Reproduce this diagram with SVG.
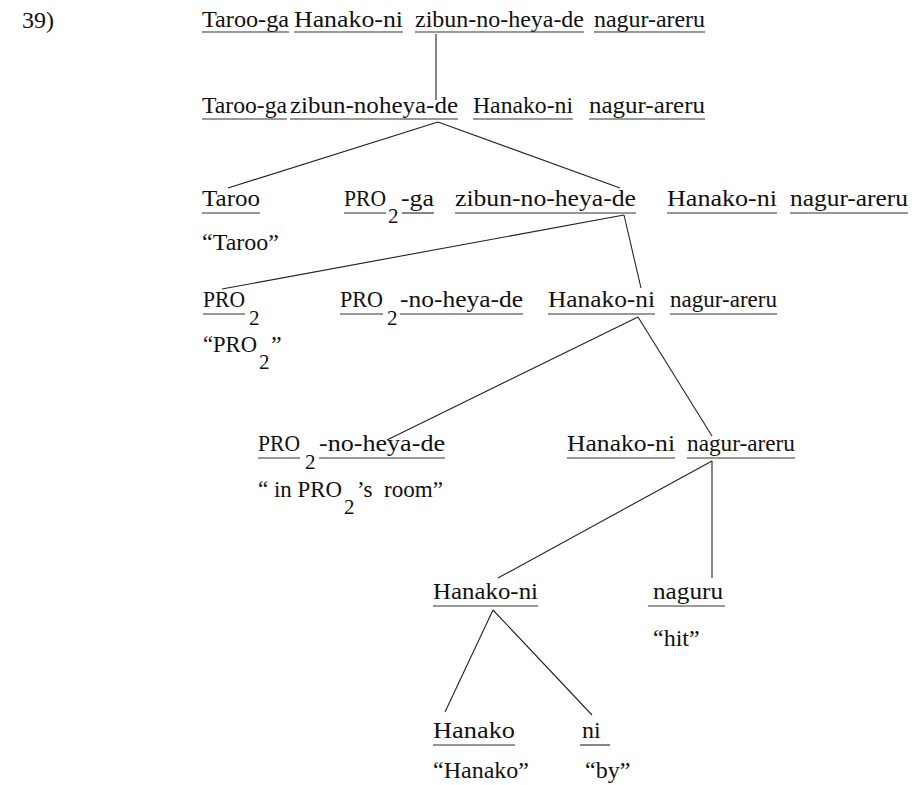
<svg xmlns="http://www.w3.org/2000/svg" width="912" height="785" viewBox="0 0 912 785">
<style>
text{font-family:"Liberation Serif",Tinos,"Times New Roman","Noto Serif","DejaVu Serif",serif;font-size:24px;fill:#111}
text.s{font-size:21px}
.u line{stroke:#333;stroke-width:1.2}
#connectors line{stroke:#222;stroke-width:1.1}
</style>
<rect width="912" height="785" fill="#fff"/>
<g id="label"><text x="22" y="28">39)</text></g>

<g id="n1">
<text x="202" y="27" textLength="87" lengthAdjust="spacingAndGlyphs">Taroo-ga</text>
<text x="294" y="27" textLength="109" lengthAdjust="spacingAndGlyphs">Hanako-ni</text>
<text x="415" y="27" textLength="169" lengthAdjust="spacingAndGlyphs">zibun-no-heya-de</text>
<text x="594" y="27" textLength="111" lengthAdjust="spacingAndGlyphs">nagur-areru</text>
<g class="u"><line x1="202" y1="32" x2="289" y2="32"/><line x1="294" y1="32" x2="403" y2="32"/><line x1="415" y1="32" x2="584" y2="32"/><line x1="594" y1="32" x2="705" y2="32"/></g>
</g>

<g id="n2">
<text x="202" y="113" textLength="85" lengthAdjust="spacingAndGlyphs">Taroo-ga</text>
<text x="290" y="113" textLength="168" lengthAdjust="spacingAndGlyphs">zibun-noheya-de</text>
<text x="473" y="113" textLength="100" lengthAdjust="spacingAndGlyphs">Hanako-ni</text>
<text x="589" y="113" textLength="116" lengthAdjust="spacingAndGlyphs">nagur-areru</text>
<g class="u"><line x1="202" y1="119" x2="287" y2="119"/><line x1="290" y1="119" x2="458" y2="119"/><line x1="473" y1="119" x2="573" y2="119"/><line x1="589" y1="119" x2="705" y2="119"/></g>
</g>

<g id="n3a">
<text x="202" y="206" textLength="58" lengthAdjust="spacingAndGlyphs">Taroo</text>
<text x="202" y="250">“Taroo”</text>
<g class="u"><line x1="202" y1="213" x2="260" y2="213"/></g>
</g>

<g id="n3b">
<text x="344" y="206" textLength="42" lengthAdjust="spacingAndGlyphs">PRO</text>
<text class="s" x="388" y="223">2</text>
<text x="401" y="206" textLength="33" lengthAdjust="spacingAndGlyphs">-ga</text>
<text x="455" y="206" textLength="181" lengthAdjust="spacingAndGlyphs">zibun-no-heya-de</text>
<text x="667" y="206" textLength="110" lengthAdjust="spacingAndGlyphs">Hanako-ni</text>
<text x="790" y="206" textLength="118" lengthAdjust="spacingAndGlyphs">nagur-areru</text>
<g class="u"><line x1="344" y1="213" x2="386" y2="213"/><line x1="402" y1="213" x2="434" y2="213"/><line x1="455" y1="213" x2="636" y2="213"/><line x1="667" y1="213" x2="777" y2="213"/><line x1="790" y1="213" x2="908" y2="213"/></g>
</g>

<g id="n4a">
<text x="203" y="307" textLength="42" lengthAdjust="spacingAndGlyphs">PRO</text>
<text class="s" x="249" y="325">2</text>
<text x="203" y="352" textLength="54" lengthAdjust="spacingAndGlyphs">“PRO</text>
<text class="s" x="259" y="369">2</text>
<text x="271" y="352">”</text>
<g class="u"><line x1="203" y1="314" x2="245" y2="314"/></g>
</g>

<g id="n4b">
<text x="340" y="307" textLength="43" lengthAdjust="spacingAndGlyphs">PRO</text>
<text class="s" x="387" y="325">2</text>
<text x="400" y="307" textLength="123" lengthAdjust="spacingAndGlyphs">-no-heya-de</text>
<text x="548" y="307" textLength="107" lengthAdjust="spacingAndGlyphs">Hanako-ni</text>
<text x="670" y="307" textLength="107" lengthAdjust="spacingAndGlyphs">nagur-areru</text>
<g class="u"><line x1="340" y1="314" x2="383" y2="314"/><line x1="400" y1="314" x2="523" y2="314"/><line x1="548" y1="314" x2="655" y2="314"/><line x1="670" y1="314" x2="777" y2="314"/></g>
</g>

<g id="n5a">
<text x="258" y="451" textLength="42" lengthAdjust="spacingAndGlyphs">PRO</text>
<text class="s" x="305" y="469">2</text>
<text x="319" y="451" textLength="126" lengthAdjust="spacingAndGlyphs">-no-heya-de</text>
<text x="258" y="497" xml:space="preserve" textLength="84" lengthAdjust="spacingAndGlyphs">“ in PRO</text>
<text class="s" x="344" y="514">2</text>
<text x="357" y="497" xml:space="preserve" textLength="86" lengthAdjust="spacingAndGlyphs">’s  room”</text>
<g class="u"><line x1="258" y1="458" x2="300" y2="458"/><line x1="319" y1="458" x2="445" y2="458"/></g>
</g>

<g id="n5b">
<text x="567" y="451" textLength="108" lengthAdjust="spacingAndGlyphs">Hanako-ni</text>
<text x="687" y="451" textLength="108" lengthAdjust="spacingAndGlyphs">nagur-areru</text>
<g class="u"><line x1="567" y1="458" x2="675" y2="458"/><line x1="687" y1="458" x2="795" y2="458"/></g>
</g>

<g id="n6a">
<text x="433" y="599" textLength="105" lengthAdjust="spacingAndGlyphs">Hanako-ni</text>
<g class="u"><line x1="433" y1="606" x2="538" y2="606"/></g>
</g>

<g id="n6b">
<text x="653" y="599" textLength="70" lengthAdjust="spacingAndGlyphs">naguru</text>
<text x="653" y="646">“hit”</text>
<g class="u"><line x1="648" y1="606" x2="725" y2="606"/></g>
</g>

<g id="n7a">
<text x="433" y="738" textLength="82" lengthAdjust="spacingAndGlyphs">Hanako</text>
<text x="433" y="778">“Hanako”</text>
<g class="u"><line x1="433" y1="745" x2="515" y2="745"/></g>
</g>

<g id="n7b">
<text x="582" y="738">ni</text>
<text x="585" y="778">“by”</text>
<g class="u"><line x1="580" y1="745" x2="610" y2="745"/></g>
</g>

<g id="connectors">
<line x1="436" y1="34" x2="436" y2="100"/>
<line x1="438" y1="122" x2="228" y2="188"/>
<line x1="438" y1="122" x2="620" y2="188"/>
<line x1="624" y1="215" x2="222" y2="289"/>
<line x1="624" y1="215" x2="641" y2="288"/>
<line x1="638" y1="317" x2="387" y2="440"/>
<line x1="638" y1="317" x2="712" y2="436"/>
<line x1="712" y1="461" x2="498" y2="578"/>
<line x1="712" y1="461" x2="712" y2="578"/>
<line x1="493" y1="610" x2="445" y2="712"/>
<line x1="493" y1="610" x2="592" y2="715"/>
</g>
</svg>
